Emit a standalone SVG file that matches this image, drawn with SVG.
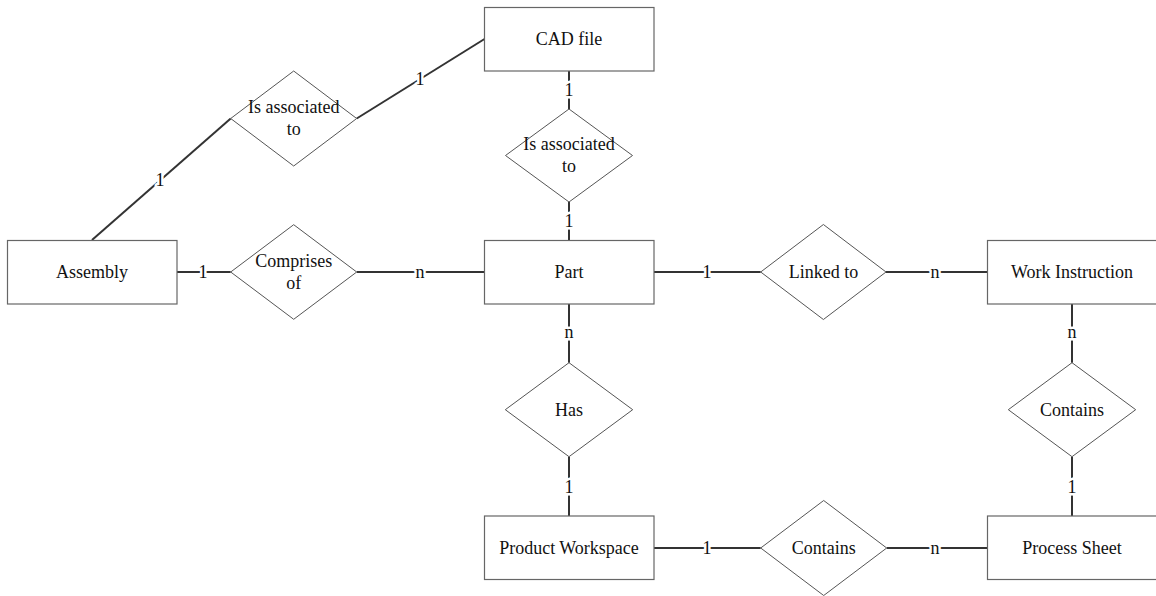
<svg xmlns="http://www.w3.org/2000/svg" width="1156" height="596" viewBox="0 0 1156 596">
  <style>
    .entity rect { fill: #ffffff; stroke: #666666; stroke-width: 1.2; }
    .relation polygon { fill: #ffffff; stroke: #555555; stroke-width: 1; }
    text { font-family: "Liberation Serif", "Times New Roman", serif; font-size: 18px; fill: #111111; text-anchor: middle; }
    #connectors line { stroke: #333333; stroke-width: 2; }
    .card { paint-order: stroke; stroke: #ffffff; stroke-width: 5px; stroke-linejoin: round; }
  </style>
  <rect width="1156" height="596" fill="#ffffff"/>

  <!-- relationship lines -->
  <g id="connectors">
    <line x1="92" y1="240" x2="230.7" y2="118.5"/>
    <line x1="356.7" y1="118.5" x2="484.5" y2="39"/>
    <line x1="569" y1="71" x2="569" y2="109"/>
    <line x1="569" y1="202" x2="569" y2="240"/>
    <line x1="177" y1="272" x2="230.7" y2="272"/>
    <line x1="356.7" y1="272" x2="484" y2="272"/>
    <line x1="654" y1="272" x2="760.7" y2="272"/>
    <line x1="886" y1="272" x2="987.5" y2="272"/>
    <line x1="569" y1="304" x2="569" y2="362.7"/>
    <line x1="569" y1="456.7" x2="569" y2="516"/>
    <line x1="1072" y1="304" x2="1072" y2="362.7"/>
    <line x1="1072" y1="456.7" x2="1072" y2="516"/>
    <line x1="653.5" y1="548" x2="760.7" y2="548"/>
    <line x1="886.7" y1="548" x2="987.5" y2="548"/>

    <!-- cardinalities -->
    <text class="card" x="160" y="186">1</text>
    <text class="card" x="420" y="85">1</text>
    <text class="card" x="569" y="96">1</text>
    <text class="card" x="569" y="227">1</text>
    <text class="card" x="203" y="278">1</text>
    <text class="card" x="420" y="278">n</text>
    <text class="card" x="707" y="278">1</text>
    <text class="card" x="935" y="278">n</text>
    <text class="card" x="569" y="338">n</text>
    <text class="card" x="569" y="493">1</text>
    <text class="card" x="1072" y="338">n</text>
    <text class="card" x="1072" y="493">1</text>
    <text class="card" x="707" y="554">1</text>
    <text class="card" x="935" y="554">n</text>
  </g>

  <!-- entities -->
  <g id="cad-file" class="entity">
    <rect x="484.5" y="7.5" width="169.5" height="63.5"/>
    <text x="569" y="45">CAD file</text>
  </g>
  <g id="assembly" class="entity">
    <rect x="7.5" y="240.5" width="169.5" height="63.5"/>
    <text x="92" y="278">Assembly</text>
  </g>
  <g id="part" class="entity">
    <rect x="484.5" y="240.5" width="169.5" height="63.5"/>
    <text x="569" y="278">Part</text>
  </g>
  <g id="work-instruction" class="entity">
    <rect x="987.5" y="240.5" width="170" height="63.5"/>
    <text x="1072" y="278">Work Instruction</text>
  </g>
  <g id="product-workspace" class="entity">
    <rect x="484.5" y="516" width="169.5" height="63.5"/>
    <text x="569" y="554">Product Workspace</text>
  </g>
  <g id="process-sheet" class="entity">
    <rect x="987.5" y="516" width="170" height="63.5"/>
    <text x="1072" y="554">Process Sheet</text>
  </g>

  <!-- relationships -->
  <g id="rel-assembly-cad" class="relation">
    <polygon points="293.7,71 356.7,118.5 293.7,166 230.7,118.5"/>
    <text x="293.7" y="113">Is associated</text>
    <text x="293.7" y="135">to</text>
  </g>
  <g id="rel-cad-part" class="relation">
    <polygon points="569,109 632.5,155.5 569,202 505.5,155.5"/>
    <text x="569" y="150">Is associated</text>
    <text x="569" y="172">to</text>
  </g>
  <g id="rel-comprises" class="relation">
    <polygon points="293.7,224.7 356.7,272 293.7,319.3 230.7,272"/>
    <text x="293.7" y="266.7">Comprises</text>
    <text x="293.7" y="288.5">of</text>
  </g>
  <g id="rel-linked" class="relation">
    <polygon points="823.4,224.5 886,272 823.4,319.5 760.7,272"/>
    <text x="823.4" y="278">Linked to</text>
  </g>
  <g id="rel-has" class="relation">
    <polygon points="569,362.7 632.7,409.7 569,456.7 505.3,409.7"/>
    <text x="569" y="416">Has</text>
  </g>
  <g id="rel-contains-wi" class="relation">
    <polygon points="1072,362.7 1135.7,409.7 1072,456.7 1008.3,409.7"/>
    <text x="1072" y="416">Contains</text>
  </g>
  <g id="rel-contains-ps" class="relation">
    <polygon points="823.7,500.5 886.7,548 823.7,595.5 760.7,548"/>
    <text x="823.7" y="554">Contains</text>
  </g>
</svg>
